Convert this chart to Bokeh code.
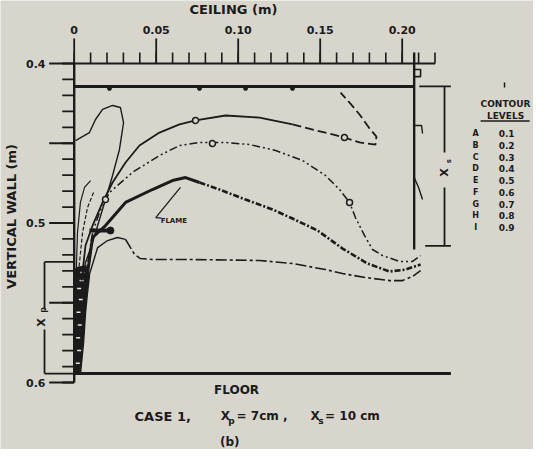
import numpy as np
from bokeh.plotting import figure
from bokeh.models import Range1d
from bokeh.core.properties import value
from bokeh.embed import file_html
from bokeh.resources import INLINE

INK = "#1b1b1b"
BG = "#d8d5cc"
FONT = "DejaVu Sans"

# ---------------- data ----------------
x_minor_ticks = [round(0.01 * i, 2) for i in range(23)]
x_major_ticks = [0.0, 0.05, 0.10, 0.15, 0.20]
x_major_labels = ["0", "0.05", "0.10", "0.15", "0.20"]
y_minor_ticks = [round(0.40 + 0.01 * i, 2) for i in range(21)]
y_major_ticks = [0.40, 0.45, 0.50, 0.55, 0.60]
y_label_ticks = [0.4, 0.5, 0.6]
y_labels = ["0.4", "0.5", "0.6"]

ceiling_y = 0.4144
floor_y = 0.5944
wall_x = 0.2073
floor_end = 0.2297
xp_len = 0.07   # 7 cm
xs_len = 0.10   # 10 cm

level_letters = ["A", "B", "C", "D", "E", "F", "G", "H", "I"]
level_values = ["0.1", "0.2", "0.3", "0.4", "0.5", "0.6", "0.7", "0.8", "0.9"]

# contour lines (x along ceiling [m], y down the vertical wall [m])
A_x = [0.0008, 0.0093, 0.0130, 0.0173, 0.0234, 0.0282, 0.0301, 0.0276, 0.0234, 0.0191, 0.0154, 0.0112, 0.0069, 0.0051]
A_y = [0.4483, 0.4433, 0.4351, 0.4288, 0.4263, 0.4276, 0.4370, 0.4539, 0.4702, 0.4853, 0.4978, 0.5122, 0.5248, 0.5342]

B_x = [0.0045, 0.0069, 0.0112, 0.0173, 0.0234, 0.0313, 0.0398, 0.0520, 0.0642, 0.0740, 0.0923, 0.1130, 0.1331,
       0.1575, 0.1648, 0.1740, 0.1837, 0.1843, 0.1801, 0.1740, 0.1679, 0.1624]
B_y = [0.5361, 0.5141, 0.5016, 0.4871, 0.4746, 0.4621, 0.4514, 0.4433, 0.4382, 0.4357, 0.4326, 0.4339, 0.4382,
       0.4445, 0.4464, 0.4495, 0.4508, 0.4458, 0.4408, 0.4320, 0.4245, 0.4182]

C_x = [0.0063, 0.0112, 0.0154, 0.0215, 0.0355, 0.0520, 0.0642, 0.0764, 0.0923, 0.1069, 0.1228, 0.1392, 0.1532,
       0.1618, 0.1679, 0.1715, 0.1770, 0.1819, 0.1880, 0.1984, 0.2063, 0.2112]
C_y = [0.5373, 0.5060, 0.4934, 0.4809, 0.4683, 0.4577, 0.4514, 0.4495, 0.4495, 0.4508, 0.4545, 0.4608, 0.4702,
       0.4790, 0.4871, 0.4966, 0.5078, 0.5166, 0.5204, 0.5241, 0.5241, 0.5204]

D_x = [0.0075, 0.0112, 0.0191, 0.0313, 0.0477, 0.0599, 0.0679, 0.0764, 0.0886, 0.1045, 0.1209, 0.1331, 0.1484,
       0.1636, 0.1788, 0.1923, 0.2020, 0.2112]
D_y = [0.5361, 0.5091, 0.5016, 0.4871, 0.4790, 0.4734, 0.4715, 0.4746, 0.4790, 0.4853, 0.4915, 0.4972, 0.5047,
       0.5160, 0.5254, 0.5304, 0.5292, 0.5260]

E_x = [0.0087, 0.0143, 0.0203, 0.0264, 0.0313, 0.0343, 0.0368, 0.0404, 0.0477, 0.0721, 0.1130, 0.1331, 0.1532,
       0.1636, 0.1776, 0.1923, 0.2002, 0.2063, 0.2112]
E_y = [0.5342, 0.5154, 0.5110, 0.5091, 0.5103, 0.5154, 0.5197, 0.5223, 0.5229, 0.5229, 0.5235, 0.5254, 0.5292,
       0.5317, 0.5342, 0.5361, 0.5361, 0.5335, 0.5298]

fan1_x = [0.0012, 0.0020, 0.0038, 0.0063, 0.0100]
fan1_y = [0.5323, 0.5060, 0.4871, 0.4777, 0.4734]
fan2_x = [0.0026, 0.0051, 0.0081, 0.0118]
fan2_y = [0.5310, 0.5060, 0.4903, 0.4809]

plume_x = [0.0, 0.0038, 0.0057, 0.0069, 0.0081, 0.0093, 0.0070, 0.0020, 0.0]
plume_y = [0.5944, 0.5944, 0.5749, 0.5561, 0.5436, 0.5329, 0.5270, 0.5279, 0.5300]
plume_dot_x = [0.0022, 0.0030, 0.0024, 0.0034, 0.0026, 0.0040, 0.0030, 0.0045, 0.0050]
plume_dot_y = [0.588, 0.580, 0.572, 0.564, 0.556, 0.548, 0.541, 0.536, 0.531]

label_mark_x = [0.0740, 0.1648, 0.0843, 0.1679, 0.0191]
label_mark_y = [0.4357, 0.4464, 0.4502, 0.4871, 0.4853]
ceiling_bump_x = [0.0215, 0.0764, 0.1045, 0.1331]
flame_bar_x = [0.0093, 0.0221]
flame_bar_y = 0.5047
leader_x = [0.0497, 0.0648]
leader_y = [0.4966, 0.4777]

vent_x = [0.2073, 0.2112, 0.2112, 0.2073]
vent_y = [0.4038, 0.4038, 0.4082, 0.4082]
hook_x = [0.2073, 0.2118, 0.2124]
hook_y = [0.4389, 0.4389, 0.4439]
branch_x = [0.2073, 0.2100, 0.2124]
branch_y = [0.4715, 0.4777, 0.4853]

# ---------------- figure ----------------
p = figure(width=533, height=449,
           x_range=Range1d(-0.04494, 0.28006), y_range=Range1d(0.6420, 0.3605),
           output_backend="svg", toolbar_location=None,
           x_axis_type=None, y_axis_type=None, min_border=0)
p.outline_line_color = None
p.background_fill_color = BG
p.border_fill_color = BG

def txt(x, y, t, size="11px", align="center", angle=0.0, baseline="middle", style="bold"):
    p.text(x=x, y=y, text=t, text_font=value(FONT), text_font_size=size,
           text_font_style=style, text_align=align, text_baseline=baseline,
           text_color=INK, angle=angle)

# ----- top (ceiling) axis -----
top_y = 0.40
minor_len_v = 11 / 1595
major_len_v = 25 / 1595
p.segment(x0=[0.0], y0=[top_y], x1=[x_minor_ticks[-1]], y1=[top_y], line_color=INK, line_width=2)
p.segment(x0=x_minor_ticks, y0=[top_y] * len(x_minor_ticks), x1=x_minor_ticks,
          y1=[top_y - minor_len_v] * len(x_minor_ticks), line_color=INK, line_width=1.6)
p.segment(x0=x_major_ticks, y0=[top_y] * len(x_major_ticks), x1=x_major_ticks,
          y1=[top_y - major_len_v] * len(x_major_ticks), line_color=INK, line_width=1.8)
txt(x_major_ticks, [top_y - 34 / 1595] * len(x_major_ticks), x_major_labels, size="11px")
txt([0.0971], [0.3661], ["CEILING (m)"], size="13px")

# ----- left (vertical wall) axis -----
minor_len_h = 12 / 1640
major_len_h = 25 / 1640
p.segment(x0=[0.0], y0=[y_minor_ticks[0]], x1=[0.0], y1=[y_minor_ticks[-1]], line_color=INK, line_width=2.4)
p.segment(x0=[0.0] * len(y_minor_ticks), y0=y_minor_ticks, x1=[-minor_len_h] * len(y_minor_ticks),
          y1=y_minor_ticks, line_color=INK, line_width=1.8)
p.segment(x0=[0.0] * len(y_major_ticks), y0=y_major_ticks, x1=[-major_len_h] * len(y_major_ticks),
          y1=y_major_ticks, line_color=INK, line_width=1.8)
txt([-0.0175] * 3, y_label_ticks, y_labels, size="11px", align="right")
txt([-0.0385], [0.4959], ["VERTICAL WALL (m)"], size="13px", angle=np.pi / 2)

# ----- room outline -----
p.segment(x0=[0.0], y0=[ceiling_y], x1=[wall_x], y1=[ceiling_y], line_color=INK, line_width=3)
p.scatter(ceiling_bump_x, [ceiling_y + 0.0012] * len(ceiling_bump_x), size=4, color=INK)
p.segment(x0=[0.0], y0=[floor_y], x1=[floor_end], y1=[floor_y], line_color=INK, line_width=3)
p.segment(x0=[wall_x], y0=[0.3931], x1=[wall_x], y1=[ceiling_y + xs_len + 0.0022], line_color=INK, line_width=2.4)
p.line(vent_x, vent_y, line_color=INK, line_width=1.6)
p.line(hook_x, hook_y, line_color=INK, line_width=1.4)
p.line(branch_x, branch_y, line_color=INK, line_width=1.4)

# ----- X_s bracket (right) -----
bx = 0.2258
p.segment(x0=[0.2104, 0.2140], y0=[ceiling_y, ceiling_y + xs_len], x1=[0.2297, 0.2297],
          y1=[ceiling_y, ceiling_y + xs_len], line_color=INK, line_width=1.8)
p.segment(x0=[bx, bx], y0=[ceiling_y, 0.4777], x1=[bx, bx], y1=[0.4558, ceiling_y + xs_len],
          line_color=INK, line_width=1.8)
txt([bx], [0.4683], ["X"], size="11px", angle=np.pi / 2)
txt([bx + 0.0026], [0.4612], ["s"], size="7px", angle=np.pi / 2)

# ----- X_p bracket (left) -----
px_ = -0.0181
p.segment(x0=[px_, px_], y0=[floor_y - xp_len, floor_y], x1=[0.0, 0.0], y1=[floor_y - xp_len, floor_y],
          line_color=INK, line_width=1.8)
p.segment(x0=[px_, px_], y0=[floor_y - xp_len, 0.5668], x1=[px_, px_], y1=[0.5542, floor_y],
          line_color=INK, line_width=1.8)
txt([-0.0199], [0.5624], ["X"], size="11px", angle=np.pi / 2)
txt([-0.0185], [0.5545], ["p"], size="8px", angle=np.pi / 2)

# ----- plume -----
p.patch(plume_x, plume_y, fill_color=INK, line_color=INK, line_width=1.5)
p.scatter(plume_dot_x, plume_dot_y, marker="dash", size=4, line_color="#e8e6de", line_width=1.5)
p.line(fan1_x, fan1_y, line_color=INK, line_width=1.2)
p.line(fan2_x, fan2_y, line_color=INK, line_width=1.2, line_dash="4 2")

# ----- contour lines -----
p.line(A_x, A_y, line_color=INK, line_width=1.4)
p.line(B_x[:13], B_y[:13], line_color=INK, line_width=1.8)
p.line(B_x[12:], B_y[12:], line_color=INK, line_width=1.8, line_dash="9 4")
p.line(C_x, C_y, line_color=INK, line_width=1.5, line_dash="8 3 2 3 2 3")
p.line(D_x[:8], D_y[:8], line_color=INK, line_width=3)
p.line(D_x[7:], D_y[7:], line_color=INK, line_width=2.6, line_dash="6 2 2 2")
p.line(E_x[:5], E_y[:5], line_color=INK, line_width=1.4)
p.line(E_x[4:], E_y[4:], line_color=INK, line_width=1.6, line_dash="11 3 3 3")
p.scatter(label_mark_x, label_mark_y, marker="circle", size=6, fill_color=BG, line_color=INK, line_width=1.5)
p.segment(x0=[flame_bar_x[0]], y0=[flame_bar_y], x1=[flame_bar_x[1]], y1=[flame_bar_y], line_color=INK, line_width=4)
p.scatter([flame_bar_x[1]], [flame_bar_y], size=7, color=INK)

# ----- FLAME label -----
p.line(leader_x, leader_y, line_color=INK, line_width=1.3)
p.segment(x0=[leader_x[0]], y0=[leader_y[0]], x1=[leader_x[0] + 0.0035], y1=[leader_y[0] + 0.0004],
          line_color=INK, line_width=1.3)
txt([0.0527], [0.4985], ["FLAME"], size="7px", align="left")

# ----- legend -----
row_top = 0.4439
row_step = 0.00737
rows_y = [row_top + i * row_step for i in range(len(level_letters))]
p.segment(x0=[0.2624], y0=[0.4119], x1=[0.2624], y1=[0.4150], line_color=INK, line_width=1.5)
txt([0.2630], [0.4257], ["CONTOUR"], size="9px")
txt([0.2630], [0.4326], ["LEVELS"], size="9px")
p.segment(x0=[0.2478], y0=[0.4360], x1=[0.2777], y1=[0.4360], line_color=INK, line_width=1.5)
txt([0.2448] * len(level_letters), rows_y, level_letters, size="8px")
txt([0.2588] * len(level_values), rows_y, level_values, size="9px", align="left")

# ----- bottom texts -----
txt([0.0990], [0.6050], ["FLOOR"], size="12px")
txt([0.0368], [0.6213], ["CASE  1,"], size="13px", align="left")
txt([0.0893], [0.6213], ["X"], size="12px", align="left")
txt([0.0940], [0.6240], ["p"], size="9px", align="left")
txt([0.0990], [0.6213], ["= 7cm ,"], size="12px", align="left")
txt([0.1441], [0.6213], ["X"], size="12px", align="left")
txt([0.1488], [0.6240], ["s"], size="9px", align="left")
txt([0.1530], [0.6213], ["= 10 cm"], size="12px", align="left")
txt([0.0948], [0.6376], ["(b)"], size="12px")

open("out.html", "w").write(file_html(p, INLINE))
